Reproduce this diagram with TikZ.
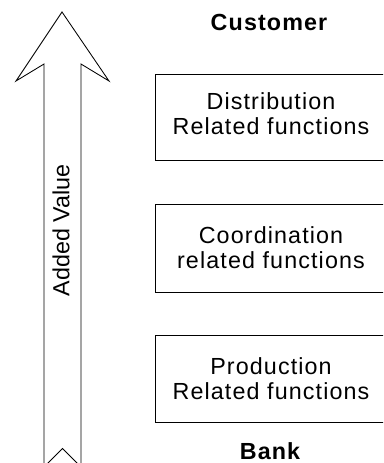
\documentclass[tikz,border=0pt]{standalone}
\usepackage{fontspec}
\newfontfamily\lblfont{Liberation Sans}[LetterSpace=4.8]
\newfontfamily\axisfont{Liberation Sans}
\usetikzlibrary{positioning}

\tikzset{
  outline/.style={draw=black, line width=0.85pt, line join=miter},
  fnbox/.style={outline, fill=white, rectangle, align=center, inner sep=0pt,
    minimum width=232pt, font=\lblfont\fontsize{23.3}{25}\selectfont},
  endlabel/.style={anchor=base, inner sep=0pt,
    font=\lblfont\bfseries\fontsize{23.3}{25}\selectfont},
  axislabel/.style={rotate=90, inner sep=0pt,
    font=\axisfont\fontsize{23.3}{25}\selectfont}
}

\begin{document}
\begin{tikzpicture}[x=1pt, y=-1pt]
  \useasboundingbox (0,0) rectangle (383,463);
  \clip (0,0) rectangle (383,463);

  % vertical block arrow with notched tail
  \draw[outline, fill=white]
    (62,12) -- (109,81) -- (81,64) -- (81,467) -- (62.5,448.5)
    -- (44,467) -- (44,64) -- (16,81) -- cycle;
  \node[axislabel] (value) at (61,230.5) {Added Value};

  % the three function layers
  \node[fnbox, minimum height=86pt, text depth=6pt] (dist) at (271,117)
    {Distribution\\Related functions};
  \node[fnbox, minimum height=88pt] (coord) at (271,248)
    {Coordination\\related functions};
  \node[fnbox, minimum height=87pt] (prod) at (271,378.5)
    {Production\\Related functions};

  % ends of the value chain
  \node[endlabel] (cust) at (269,30) {Customer};
  \node[endlabel] (bank) at (270,459.5) {Bank};
\end{tikzpicture}
\end{document}
